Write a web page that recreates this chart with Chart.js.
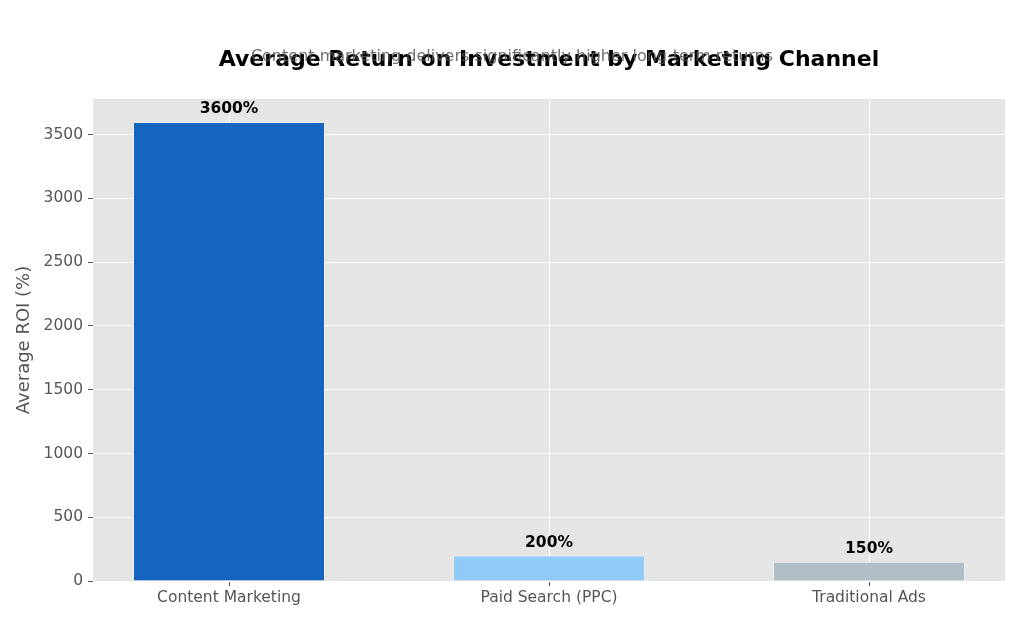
<!DOCTYPE html>
<html>
<head>
<meta charset="utf-8">
<script src="https://cdn.jsdelivr.net/npm/chart.js@4/dist/chart.umd.min.js"></script>
<style>
  html, body { margin: 0; padding: 0; background: #fff; }
  #wrap { width: 1024px; height: 626px; }
</style>
</head>
<body>
<div id="wrap"><canvas id="roi_chart"></canvas></div>
<script>
// data
const channels = ['Content Marketing', 'Paid Search (PPC)', 'Traditional Ads'];
const roiValues = [3600, 200, 150];
const barColors = ['#1565C0', '#90CAF9', '#B0BEC5'];
const yTicks = [0, 500, 1000, 1500, 2000, 2500, 3000, 3500];

const titleText = 'Average Return on Investment by Marketing Channel';
const subtitleText = 'Content marketing delivers significantly higher long-term returns';

const FONT = "'DejaVu Sans', sans-serif";

// plot background (ggplot grey)
const plotBg = {
  id: 'plotBg',
  beforeDraw: chart => {
    const { ctx, chartArea: a } = chart;
    ctx.save();
    ctx.fillStyle = '#E5E5E5';
    ctx.fillRect(a.left, a.top, a.right - a.left, a.bottom - a.top);
    ctx.restore();
  }
};

// title + subtitle, drawn on top of each other like the original
const headings = {
  id: 'headings',
  afterDraw: chart => {
    const ctx = chart.ctx;
    ctx.save();
    ctx.textAlign = 'center';
    ctx.textBaseline = 'middle';
    ctx.fillStyle = '#000';
    ctx.font = 'bold 22px ' + FONT;
    ctx.fillText(titleText, 549, 60);
    ctx.fillStyle = 'rgba(85,85,85,0.85)';
    ctx.font = '16px ' + FONT;
    ctx.fillText(subtitleText, 512, 57);
    ctx.restore();
  }
};

// value labels above bars
const valueLabels = {
  id: 'valueLabels',
  afterDatasetsDraw: chart => {
    const ctx = chart.ctx;
    const meta = chart.getDatasetMeta(0);
    ctx.save();
    ctx.textAlign = 'center';
    ctx.textBaseline = 'middle';
    ctx.fillStyle = '#000';
    ctx.font = 'bold 15.5px ' + FONT;
    meta.data.forEach((bar, i) => {
      ctx.fillText(roiValues[i] + '%', bar.x, bar.y - 13);
    });
    ctx.restore();
  }
};

const ctx = document.getElementById('roi_chart').getContext('2d');
const roiChart = new Chart(ctx, {
  type: 'bar',
  data: {
    datasets: [{
      label: 'Average ROI (%)',
      data: roiValues.map((v, i) => ({ x: i, y: v })),
      backgroundColor: barColors,
      borderColor: 'rgba(255,255,255,0.35)',
      borderWidth: 1,
      barPercentage: 0.6,
      categoryPercentage: 1.0
    }]
  },
  options: {
    responsive: true,
    maintainAspectRatio: false,
    animation: false,
    layout: { padding: { top: 99, right: 19, left: 0, bottom: 0 } },
    plugins: {
      legend: { display: false },
      tooltip: { enabled: false }
    },
    scales: {
      x: {
        type: 'linear',
        offset: false,
        min: -0.425,
        max: 2.425,
        afterBuildTicks: scale => {
          scale.ticks = channels.map((c, i) => ({ value: i }));
        },
        afterFit: scale => { scale.height = 45; },
        grid: { offset: false, color: '#ffffff', lineWidth: 1, tickColor: '#555555', tickLength: 5 },
        border: { display: false },
        ticks: {
          color: '#555555',
          font: { family: FONT, size: 15.5 },
          padding: 3,
          maxRotation: 0,
          callback: v => channels[v]
        }
      },
      y: {
        min: 0,
        max: 3780,
        afterBuildTicks: scale => {
          scale.ticks = yTicks.map(v => ({ value: v }));
        },
        afterFit: scale => { scale.width = 93; },
        grid: { color: '#ffffff', lineWidth: 1, tickColor: '#555555', tickLength: 5 },
        border: { display: false },
        ticks: {
          color: '#555555',
          font: { family: FONT, size: 15.5 },
          padding: 5,
          callback: v => String(v)
        },
        title: {
          display: true,
          text: 'Average ROI (%)',
          color: '#555555',
          font: { family: FONT, size: 18 },
          padding: { top: 14, bottom: 0 }
        }
      }
    }
  },
  plugins: [plotBg, valueLabels, headings]
});
</script>
</body>
</html>
